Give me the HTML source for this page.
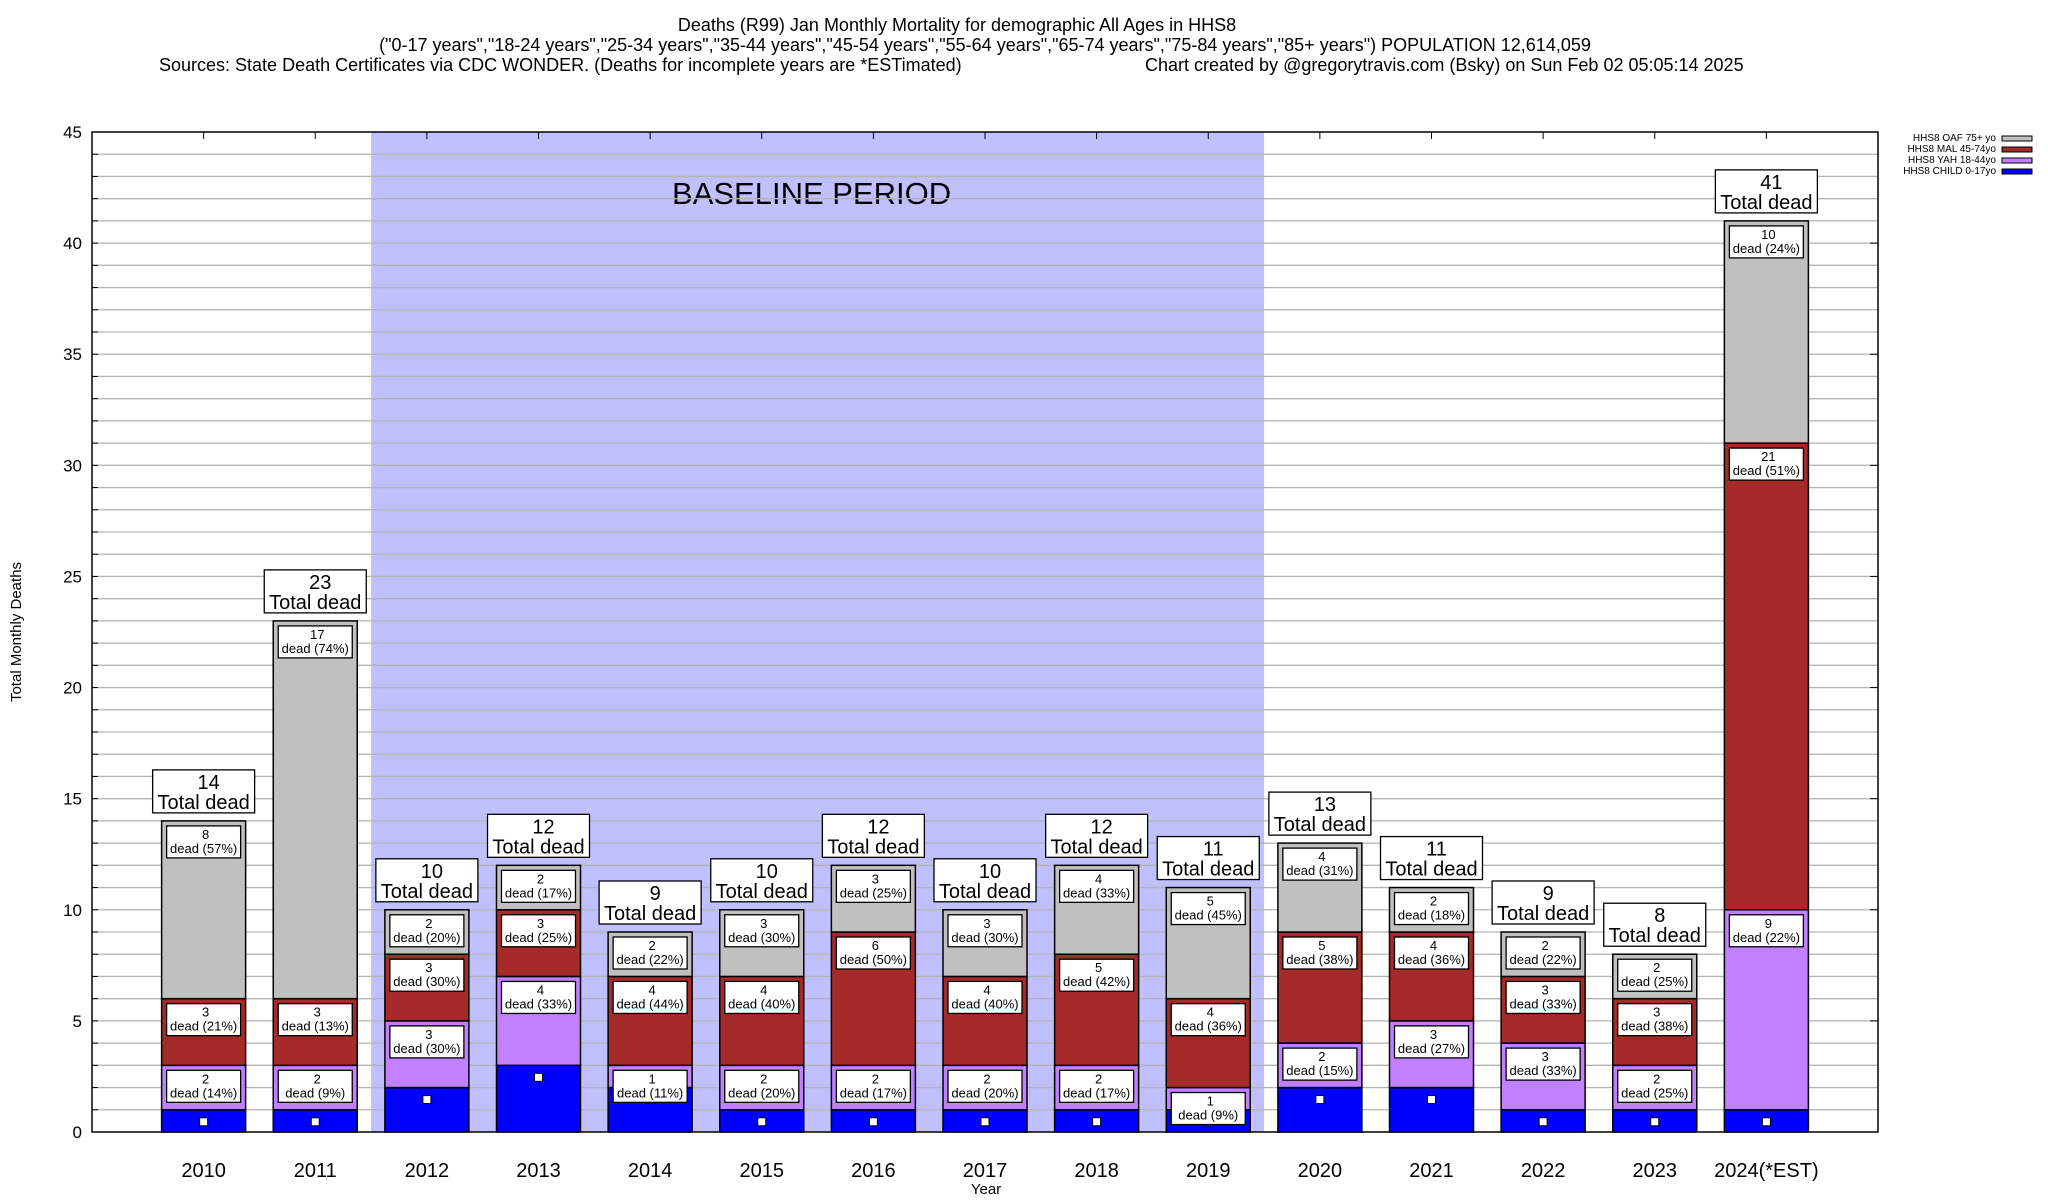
<!DOCTYPE html>
<html><head><meta charset="utf-8"><style>
html,body{margin:0;padding:0;background:#fff;}
svg{display:block;font-family:"Liberation Sans",Arial,sans-serif;}
</style></head><body>
<svg id="chart" width="2048" height="1200" viewBox="0 0 2048 1200">
<g>
<text x="957" y="31" font-size="18" text-anchor="middle">Deaths (R99) Jan Monthly Mortality for demographic All Ages in HHS8</text>
<text x="985" y="51" font-size="18" text-anchor="middle">("0-17 years","18-24 years","25-34 years","35-44 years","45-54 years","55-64 years","65-74 years","75-84 years","85+ years") POPULATION 12,614,059</text>
<text x="159" y="71" font-size="18">Sources: State Death Certificates via CDC WONDER. (Deaths for incomplete years are *ESTimated)</text>
<text x="1145" y="71" font-size="18">Chart created by @gregorytravis.com (Bsky) on Sun Feb 02 05:05:14 2025</text>
</g>
<g id="plot"></g>
<g font-size="10" text-anchor="end">
<text x="1996" y="141">HHS8 OAF 75+ yo</text>
<rect x="2002" y="136" width="30" height="5" fill="#c0c0c0" stroke="#000"/>
<text x="1996" y="152">HHS8 MAL 45-74yo</text>
<rect x="2002" y="147" width="30" height="5" fill="#a52a2a" stroke="#000"/>
<text x="1996" y="163">HHS8 YAH 18-44yo</text>
<rect x="2002" y="158" width="30" height="5" fill="#c080ff" stroke="#000"/>
<text x="1996" y="174">HHS8 CHILD 0-17yo</text>
<rect x="2002" y="169" width="30" height="5" fill="#0000ff" stroke="#000"/>
</g>
<text x="986" y="1194" font-size="15" text-anchor="middle">Year</text>
<text transform="translate(21,632) rotate(-90)" font-size="15" text-anchor="middle">Total Monthly Deaths</text>
</svg>
<script>
const categories = ["2010","2011","2012","2013","2014","2015","2016","2017","2018","2019","2020","2021","2022","2023","2024(*EST)"];
const childVals = [1,1,2,3,2,1,1,1,1,1,2,2,1,1,1];
const yahVals = [2,2,3,4,1,2,2,2,2,1,2,3,3,2,9];
const malVals = [3,3,3,3,4,4,6,4,5,4,5,4,3,3,21];
const oafVals = [8,17,2,2,2,3,3,3,4,5,4,2,2,2,10];
const yTicks = [0,5,10,15,20,25,30,35,40,45];
const baselineStart = "2012", baselineEnd = "2019";

const NS = "http://www.w3.org/2000/svg";
const L = 92, R = 1878, T = 132, B = 1132, YMAX = 45;
const slot = (R - L) / (categories.length + 1);
const bw = 84;
function xPos(i){ return L + (i + 1) * slot; }
function yPos(v){ return B - v / YMAX * (B - T); }
const plot = document.getElementById("plot");
function mk(tag, attrs, parent){
  const e = document.createElementNS(NS, tag);
  for (const k in attrs) e.setAttribute(k, attrs[k]);
  (parent || plot).appendChild(e);
  return e;
}

// baseline shade
const bs = categories.indexOf(baselineStart), be = categories.indexOf(baselineEnd);
const shade = mk("rect", {x: xPos(bs) - slot/2, y: T, width: (be - bs + 1) * slot, height: B - T, fill: "#c0c0ff"});


const bl = mk("text", {x: (xPos(bs) - slot/2 + xPos(be) + slot/2)/2 - 6, y: 204, "font-size": 31, "text-anchor": "middle"});
bl.textContent = "BASELINE PERIOD";



// gridlines
for (let v = 1; v < YMAX; v++) {
  const g = mk("line", {x1: L, x2: R, y1: yPos(v), y2: yPos(v), stroke: "#b4b4b4", "stroke-width": 1.3});
  
  
  const t1 = mk("line", {x1: L, x2: L + 6, y1: yPos(v), y2: yPos(v), stroke: "#000"});
  
  
}
yTicks.forEach(v => {
  const t = mk("text", {x: 82, y: yPos(v) + 6, "font-size": 17, "text-anchor": "end"});
  t.textContent = v;
  
  
  const tk = mk("line", {x1: R - 8, x2: R, y1: yPos(v), y2: yPos(v), stroke: "#000"});
  
  
});

const colors = ["#0000ff", "#c080ff", "#a52a2a", "#c0c0c0"];
const segNames = ["child", "yah", "mal", "oaf"];
categories.forEach((c, i) => {
  const x = xPos(i);
  const vals = [childVals[i], yahVals[i], malVals[i], oafVals[i]];
  const total = vals.reduce((a, b) => a + b, 0);
  let base = 0;
  const labels = [];
  vals.forEach((v, s) => {
    const r = mk("rect", {x: x - bw/2, y: yPos(base + v), width: bw, height: yPos(base) - yPos(base + v), fill: colors[s], stroke: "#000", "stroke-width": 1.5});
    
    
    labels.push([s, v, yPos(base + v)]);
    base += v;
  });
  labels.forEach(([s, v, top]) => {
    if (s === 0) {
      const sq = mk("rect", {x: x - 4, y: top + 8, width: 8, height: 8, fill: "#fff", stroke: "#000"});
      
      
      return;
    }
    const pct = Math.round(v / total * 100);
    const g = mk("g", {});
    
    
    mk("rect", {x: x - 37, y: top + 5, width: 74, height: 32, fill: "#fff", stroke: "#000", "stroke-width": 1.3}, g);
    const t1 = mk("text", {x: x + 2, y: top + 18, "font-size": 13, "text-anchor": "middle"}, g);
    t1.textContent = v;
    const t2 = mk("text", {x: x, y: top + 32, "font-size": 13, "text-anchor": "middle"}, g);
    t2.textContent = "dead (" + pct + "%)";
  });
  const tt = yPos(total);
  const g = mk("g", {});
  
  
  mk("rect", {x: x - 51, y: tt - 51, width: 102, height: 43, fill: "#fff", stroke: "#000", "stroke-width": 1.3}, g);
  const n = mk("text", {x: x + 5, y: tt - 32, "font-size": 20, "text-anchor": "middle"}, g);
  n.textContent = total;
  const td = mk("text", {x: x, y: tt - 12, "font-size": 20, "text-anchor": "middle"}, g);
  td.textContent = "Total dead";
  const xl = mk("text", {x: x, y: 1177, "font-size": 20, "text-anchor": "middle"});
  xl.textContent = c;
  
  
  const xt = mk("line", {x1: x, x2: x, y1: T, y2: T + 7, stroke: "#000"});
  
  
});
const frame = mk("rect", {x: L, y: T, width: R - L, height: B - T, fill: "none", stroke: "#000", "stroke-width": 1.5});


</script>
</body></html>
